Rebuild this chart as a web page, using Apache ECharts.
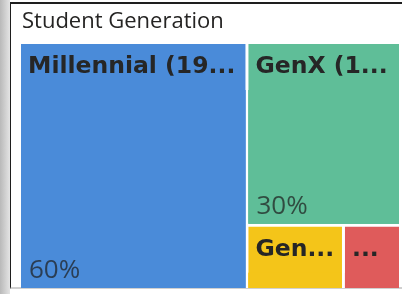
<!DOCTYPE html>
<html>
<head>
<meta charset="utf-8">
<script src="https://cdn.jsdelivr.net/npm/echarts@6/dist/echarts.min.js"></script>
<style>
  html, body { margin: 0; padding: 0; background: #fff; }
  #shade { position: absolute; left: 0; top: 0; width: 10px; height: 294px;
           background: linear-gradient(to right, #b9b9b9, #e4e4e4); }
  #frame { position: absolute; left: 10px; top: 2px; width: 392px; height: 287px;
           border-left: 1px solid #1e1e1e; border-top: 2px solid #1e1e1e;
           border-bottom: 2px solid #d0d0d0; box-sizing: border-box; }
  #main { position: absolute; left: 0; top: 0; width: 402px; height: 294px; }
</style>
</head>
<body>
<div id="shade"></div>
<div id="frame"></div>
<div id="main"></div>
<script>
const generations = ['Millennial (1981-1996)', 'GenX (1965-1980)', 'GenZ (1997-2012)', 'Baby Boomers (1946-1964)'];
const shares = [59.7, 29.8, 6.6, 3.9];
const palette = ['#4a8bd9', '#5fbe98', '#f4c519', '#df5b5b'];

const total = shares.reduce((a, b) => a + b, 0);

const chart = echarts.init(document.getElementById('main'), null, { renderer: 'canvas' });

const option = {
  animation: false,
  title: {
    text: 'Student Generation',
    left: 17,
    top: 6,
    textStyle: {
      fontFamily: 'Open Sans',
      fontSize: 22,
      fontWeight: 'normal',
      color: '#252423'
    }
  },
  series: [{
    type: 'treemap',
    left: 21,
    top: 44,
    right: 3,
    bottom: 6,
    roam: false,
    nodeClick: false,
    breadcrumb: { show: false },
    levels: [
      { itemStyle: { borderWidth: 0, gapWidth: 3 } },
      {
        itemStyle: { borderWidth: 0, gapWidth: 0 },
        upperLabel: {
          show: true,
          height: 46,
          padding: [0, 0, 0, 7],
          fontFamily: 'DejaVu Sans',
          fontWeight: 'bold',
          fontSize: 23.5,
          color: '#262626',
          overflow: 'truncate',
          ellipsis: '...'
        }
      },
      {
        itemStyle: { borderWidth: 0, gapWidth: 0 },
        label: {
          show: true,
          position: 'insideBottomLeft',
          distance: 4,
          padding: [0, 0, 0, 4],
          fontFamily: 'Open Sans',
          fontSize: 26,
          color: 'rgba(30,30,30,0.72)',
          formatter: p => p.name
        }
      }
    ],
    data: generations.map((name, i) => ({
      name: name,
      value: shares[i],
      itemStyle: { color: palette[i], borderColor: palette[i] },
      // box too narrow for any letters: show just the ellipsis
      upperLabel: shares[i] < 5 ? { formatter: '...' } : undefined,
      children: [{
        name: Math.round(shares[i] / total * 100) + '%',
        value: shares[i],
        itemStyle: { color: palette[i], borderColor: palette[i] }
      }]
    }))
  }]
};

chart.setOption(option);
</script>
</body>
</html>
